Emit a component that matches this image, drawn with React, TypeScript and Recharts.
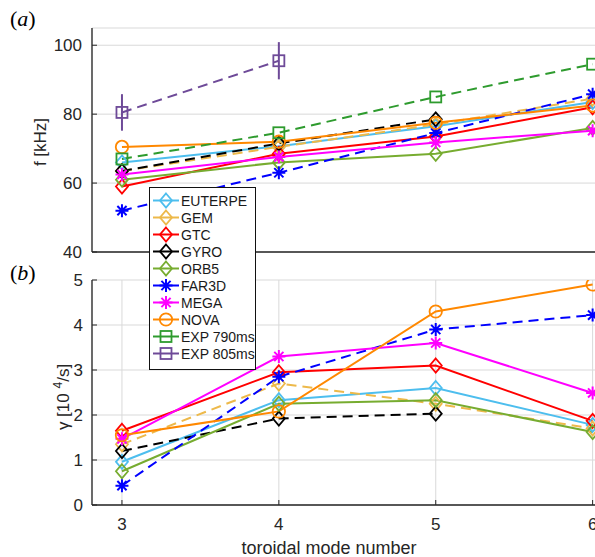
import React from 'react';
import { LineChart, Line, XAxis, YAxis, CartesianGrid, ErrorBar } from 'recharts';

// ---- data ----
const modes = [3, 4, 5, 6];
const seriesNames = ['EUTERPE', 'GEM', 'GTC', 'GYRO', 'ORB5', 'FAR3D', 'MEGA', 'NOVA', 'EXP 790ms', 'EXP 805ms'];

// frequency f [kHz]
const fEUTERPE = [66, 70.7, 76.5, 83.5];
const fGEM = [63.5, 70.5, 77, 84.5];
const fGTC = [59, 68.5, 73.5, 82];
const fGYRO = [63.5, 71.5, 78.5, null];
const fORB5 = [61, 66, 68.5, 76];
const fFAR3D = [52, 63, 74.5, 85.8];
const fMEGA = [62.5, 67.6, 71.8, 75.2];
const fNOVA = [70.5, 72, 77.5, 82.5];
const fEXP790 = [67, 74.6, 85, 94.5];
const fEXP805 = [80.5, 95.5, null, null];
const fEXP805err = [5.3, 5.4, null, null];

// growth rate gamma [10^4/s]
const gEUTERPE = [0.96, 2.33, 2.6, 1.78];
const gGEM = [1.35, 2.7, 2.25, 1.7];
const gGTC = [1.65, 2.95, 3.1, 1.87];
const gGYRO = [1.2, 1.92, 2.03, null];
const gORB5 = [0.75, 2.25, 2.33, 1.62];
const gFAR3D = [0.43, 2.85, 3.9, 4.22];
const gMEGA = [1.47, 3.3, 3.6, 2.49];
const gNOVA = [1.55, 2.08, 4.3, 4.9];

const fTicks = [40, 60, 80, 100];
const gTicks = [0, 1, 2, 3, 4, 5];
const xTicks = [3, 4, 5, 6];

type Shape = 'diamond' | 'star' | 'circle' | 'square';
interface Style { key: string; color: string; shape: Shape; dashed: boolean }
const styles: Style[] = [
  { key: 'EUTERPE', color: '#4DBEEE', shape: 'diamond', dashed: false },
  { key: 'GEM', color: '#EDB94A', shape: 'diamond', dashed: true },
  { key: 'GTC', color: '#FF0000', shape: 'diamond', dashed: false },
  { key: 'GYRO', color: '#000000', shape: 'diamond', dashed: true },
  { key: 'ORB5', color: '#77AC30', shape: 'diamond', dashed: false },
  { key: 'FAR3D', color: '#0000FF', shape: 'star', dashed: true },
  { key: 'MEGA', color: '#FF00FF', shape: 'star', dashed: false },
  { key: 'NOVA', color: '#FF8800', shape: 'circle', dashed: false },
  { key: 'EXP790', color: '#2E9B2E', shape: 'square', dashed: true },
  { key: 'EXP805', color: '#6E4A98', shape: 'square', dashed: true },
];

const topData = modes.map((m, i) => ({
  mode: m,
  EUTERPE: fEUTERPE[i], GEM: fGEM[i], GTC: fGTC[i], GYRO: fGYRO[i], ORB5: fORB5[i],
  FAR3D: fFAR3D[i], MEGA: fMEGA[i], NOVA: fNOVA[i], EXP790: fEXP790[i], EXP805: fEXP805[i],
  EXP805err: fEXP805err[i],
}));
const bottomData = modes.map((m, i) => ({
  mode: m,
  EUTERPE: gEUTERPE[i], GEM: gGEM[i], GTC: gGTC[i], GYRO: gGYRO[i], ORB5: gORB5[i],
  FAR3D: gFAR3D[i], MEGA: gMEGA[i], NOVA: gNOVA[i],
}));

const FONT = '"Liberation Sans", Arial, Helvetica, sans-serif';
const TXT = '#262626';
const GRID = '#d9d9d9';

function marker(shape: Shape, color: string, cx: number, cy: number, key?: string) {
  const sw = 1.8;
  if (shape === 'diamond') {
    return <path key={key} d={`M${cx},${cy - 7}L${cx + 6},${cy}L${cx},${cy + 7}L${cx - 6},${cy}Z`} fill="none" stroke={color} strokeWidth={sw} />;
  }
  if (shape === 'circle') {
    return <circle key={key} cx={cx} cy={cy} r={6.2} fill="none" stroke={color} strokeWidth={sw} />;
  }
  if (shape === 'square') {
    return <rect key={key} x={cx - 5.5} y={cy - 5.5} width={11} height={11} fill="none" stroke={color} strokeWidth={sw} />;
  }
  const r = 6.5;
  const d = r * 0.707;
  return (
    <path key={key}
      d={`M${cx - r},${cy}L${cx + r},${cy}M${cx},${cy - r}L${cx},${cy + r}M${cx - d},${cy - d}L${cx + d},${cy + d}M${cx - d},${cy + d}L${cx + d},${cy - d}`}
      stroke={color} strokeWidth={2} fill="none" />
  );
}

function dotFor(s: Style) {
  return (p: any) => {
    const k = `${s.key}-${p.index}`;
    if (p.cx == null || p.cy == null || p.value == null || Number.isNaN(p.cy)) return <g key={k} />;
    return marker(s.shape, s.color, p.cx, p.cy, k);
  };
}

function renderLines(keys: string[], withErr: boolean) {
  return styles.filter((s) => keys.includes(s.key)).map((s) => (
    <Line
      key={s.key}
      dataKey={s.key}
      type="linear"
      stroke={s.color}
      strokeWidth={2}
      strokeDasharray={s.dashed ? '10 6' : undefined}
      dot={dotFor(s)}
      activeDot={false}
      isAnimationActive={false}
      connectNulls={false}
    >
      {withErr && s.key === 'EXP805' ? (
        <ErrorBar dataKey="EXP805err" direction="y" width={0} stroke={s.color} strokeWidth={2} />
      ) : null}
    </Line>
  ));
}

const tickStyle = { fill: TXT, fontSize: 17, fontFamily: FONT };
const XDOMAIN: [number, number] = [2.809, 6.2];

export default function App() {
  const topKeys = styles.map((s) => s.key);
  const bottomKeys = ['EUTERPE', 'GEM', 'GTC', 'GYRO', 'ORB5', 'FAR3D', 'MEGA', 'NOVA'];
  return (
    <div style={{ position: 'fixed', left: 0, top: 0, width: 595, height: 557, overflow: 'hidden', background: '#fff' }}>
      <div style={{ position: 'absolute', left: 0, top: 0 }}>
        <LineChart width={640} height={270} data={topData} margin={{ top: 28, right: 16, bottom: 8, left: 32 }}>
          <CartesianGrid stroke={GRID} strokeWidth={1} />
          <XAxis dataKey="mode" type="number" domain={XDOMAIN} ticks={xTicks} allowDataOverflow
            tick={false} height={10} axisLine={{ stroke: TXT, strokeWidth: 1.3 }} tickLine={false} />
          <YAxis type="number" domain={[40, 105]} ticks={fTicks} allowDataOverflow width={60}
            tick={tickStyle} tickSize={-5} tickMargin={15}
            axisLine={{ stroke: TXT, strokeWidth: 1.3 }} tickLine={{ stroke: TXT }} />
          {renderLines(topKeys, true)}
        </LineChart>
      </div>
      <div style={{ position: 'absolute', left: 0, top: 260 }}>
        <LineChart width={640} height={297} data={bottomData} margin={{ top: 20, right: 16, bottom: 22, left: 32 }}>
          <CartesianGrid stroke={GRID} strokeWidth={1} />
          <XAxis dataKey="mode" type="number" domain={XDOMAIN} ticks={xTicks} allowDataOverflow
            height={30} tick={tickStyle} tickSize={-5} tickMargin={18}
            axisLine={{ stroke: TXT, strokeWidth: 1.3 }} tickLine={{ stroke: TXT }} />
          <YAxis type="number" domain={[0, 5]} ticks={gTicks} allowDataOverflow width={60}
            tick={tickStyle} tickSize={-5} tickMargin={14}
            axisLine={{ stroke: TXT, strokeWidth: 1.3 }} tickLine={{ stroke: TXT }} />
          {renderLines(bottomKeys, false)}
        </LineChart>
      </div>
      <svg width={595} height={557} style={{ position: 'absolute', left: 0, top: 0, pointerEvents: 'none' }}>
        <text x={10} y={26} fontFamily='"Liberation Serif", "Times New Roman", serif' fontSize={22} fill="#000">
          (<tspan fontStyle="italic">a</tspan>)
        </text>
        <text x={10} y={280} fontFamily='"Liberation Serif", "Times New Roman", serif' fontSize={22} fill="#000">
          (<tspan fontStyle="italic">b</tspan>)
        </text>
        <text x={0} y={0} transform="translate(46,142) rotate(-90)" textAnchor="middle" fontFamily={FONT} fontSize={17} fill={TXT}>
          f [kHz]
        </text>
        <text x={0} y={0} transform="translate(69,397) rotate(-90)" textAnchor="middle" fontFamily={FONT} fontSize={17} fill={TXT}>
          γ [10 <tspan fontSize={12} dy={-7}>4</tspan><tspan dy={7}>/s]</tspan>
        </text>
        <text x={329} y={554} textAnchor="middle" fontFamily={FONT} fontSize={18} fill={TXT}>
          toroidal mode number
        </text>
      </svg>
      <div style={{
        position: 'absolute', left: 149, top: 187, width: 107, height: 183,
        border: '1.3px solid #111', background: '#fff', boxSizing: 'border-box', paddingTop: 4,
      }}>
        {styles.map((s, i) => (
          <div key={s.key} style={{ display: 'flex', alignItems: 'center', height: 17 }}>
            <svg width={30} height={17} style={{ marginLeft: 1, flex: 'none' }}>
              <line x1={2} y1={8.5} x2={28} y2={8.5} stroke={s.color} strokeWidth={2} />
              {marker(s.shape, s.color, 15, 8.5)}
            </svg>
            <span style={{ fontFamily: FONT, fontSize: 14, color: '#1a1a1a', marginLeft: 0, whiteSpace: 'nowrap' }}>
              {seriesNames[i]}
            </span>
          </div>
        ))}
      </div>
    </div>
  );
}
